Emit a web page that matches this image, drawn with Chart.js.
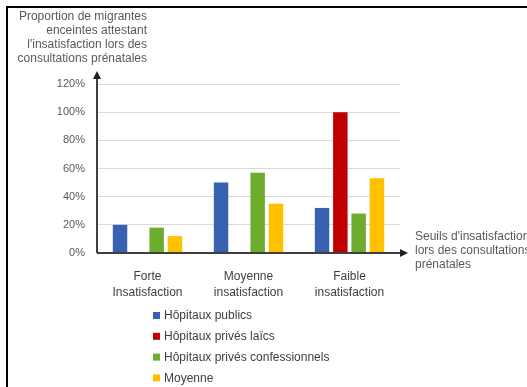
<!DOCTYPE html>
<html lang="fr">
<head>
  <meta charset="UTF-8">
  <title>Insatisfaction lors des consultations prénatales</title>
  <script src="https://cdn.jsdelivr.net/npm/chart.js"></script>
  <style>
    html, body { margin: 0; padding: 0; background: #fff; overflow: hidden; }
    .frame {
      position: absolute; left: 6px; top: 6px;
      width: 530px; height: 390px;
      border: 2px solid #000; box-sizing: border-box;
      pointer-events: none;
    }
    #chartWrap { position: absolute; left: 0; top: 0; width: 527px; height: 387px; }
  </style>
</head>
<body>
  <div id="chartWrap"><canvas id="seuilsChart"></canvas></div>
  <div class="frame"></div>

  <script>
    // Categories (x axis) and series values in %
    const categories = [['Forte', 'Insatisfaction'], ['Moyenne', 'insatisfaction'], ['Faible', 'insatisfaction']];
    const seriesNames = ['Hôpitaux publics', 'Hôpitaux privés laïcs', 'Hôpitaux privés confessionnels', 'Moyenne'];
    const publics = [20, 50, 32];
    const privesLaics = [0, 0, 100];
    const privesConfessionnels = [18, 57, 28];
    const moyenne = [12, 35, 53];
    const seriesColors = ['#3861B0', '#C00000', '#6EAC2E', '#FFC000'];
    const yTitle = ['Proportion de migrantes', 'enceintes attestant', "l'insatisfaction lors des", 'consultations prénatales'];
    const xTitle = ["Seuils d'insatisfaction", 'lors des consultations', 'prénatales'];

    const FONT = "'Liberation Sans', Arial, sans-serif";

    // axis arrows, axis titles and a vertical legend
    const decorPlugin = {
      id: 'decor',
      afterDraw(chart) {
        const ctx = chart.ctx;
        const area = chart.chartArea;
        const y0 = chart.scales.y.getPixelForValue(0);
        ctx.save();
        ctx.strokeStyle = '#404040';
        ctx.fillStyle = '#202020';
        ctx.lineWidth = 2;
        // y axis
        ctx.beginPath();
        ctx.moveTo(area.left, y0);
        ctx.lineTo(area.left, area.top - 8);
        ctx.stroke();
        ctx.beginPath();
        ctx.moveTo(area.left, area.top - 13);
        ctx.lineTo(area.left - 4, area.top - 5);
        ctx.lineTo(area.left + 4, area.top - 5);
        ctx.closePath();
        ctx.fill();
        // x axis
        ctx.beginPath();
        ctx.moveTo(area.left, y0);
        ctx.lineTo(area.right + 2, y0);
        ctx.stroke();
        ctx.beginPath();
        ctx.moveTo(area.right + 8, y0);
        ctx.lineTo(area.right, y0 - 4);
        ctx.lineTo(area.right, y0 + 4);
        ctx.closePath();
        ctx.fill();

        // axis titles
        ctx.font = '12px ' + FONT;
        ctx.fillStyle = '#595959';
        ctx.textBaseline = 'middle';
        ctx.textAlign = 'right';
        yTitle.forEach((t, i) => ctx.fillText(t, 147, 17 + i * 14));
        ctx.textAlign = 'left';
        xTitle.forEach((t, i) => ctx.fillText(t, 415, 237 + i * 14));

        // legend
        ctx.fillStyle = '#404040';
        chart.data.datasets.forEach((ds, i) => {
          const cy = 316 + i * 20.8;
          ctx.fillStyle = ds.backgroundColor;
          ctx.fillRect(153, cy - 4, 7, 7);
          ctx.fillStyle = '#404040';
          ctx.fillText(ds.label, 164, cy);
        });
        ctx.restore();
      }
    };

    const seriesData = [publics, privesLaics, privesConfessionnels, moyenne];

    new Chart(document.getElementById('seuilsChart'), {
      type: 'bar',
      data: {
        labels: categories,
        datasets: seriesNames.map((name, i) => ({
          label: name,
          data: seriesData[i],
          backgroundColor: seriesColors[i],
          categoryPercentage: 0.725,
          barPercentage: 0.79
        }))
      },
      options: {
        responsive: true,
        maintainAspectRatio: false,
        animation: false,
        layout: { padding: { left: 0, top: 84, right: 127, bottom: 84 } },
        plugins: {
          legend: { display: false },
          tooltip: { enabled: false }
        },
        scales: {
          x: {
            grid: { display: false },
            border: { display: false },
            ticks: {
              color: '#404040',
              padding: 8,
              font: { family: FONT, size: 12, lineHeight: 1.33 }
            },
            afterFit(scale) { scale.height = 50; }
          },
          y: {
            min: 0,
            max: 120,
            grid: { color: '#D9D9D9', lineWidth: 1, drawTicks: false },
            border: { display: false },
            ticks: {
              stepSize: 20,
              color: '#595959',
              padding: 12,
              font: { family: FONT, size: 11 },
              callback: v => v + '%'
            },
            afterFit(scale) { scale.width = 97; }
          }
        }
      },
      plugins: [decorPlugin]
    });
  </script>
</body>
</html>
